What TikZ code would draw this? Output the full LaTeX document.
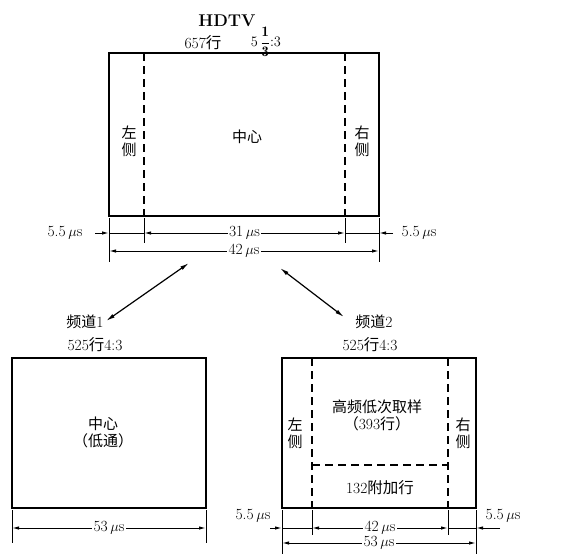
\documentclass[tikz,border=0pt]{standalone}
\usepackage{fontspec}
\newfontfamily\cjk{Noto Sans CJK SC}
\newcommand\zhs[1]{{\cjk #1}}
\usetikzlibrary{arrows.meta}
\begin{document}
\begin{tikzpicture}[x=1pt,y=-1pt,
  box/.style={line width=2.6pt},
  dsh/.style={line width=1.7pt, dash pattern=on 8pt off 5pt},
  ext/.style={line width=1pt},
  tip/.style={-{Latex[length=7pt,width=3.4pt]}},
  dim/.style={line width=1pt, {Latex[length=7pt,width=3.4pt]}-{Latex[length=7pt,width=3.4pt]}},
  arr/.style={line width=1.2pt, {Latex[length=9pt,width=4pt]}-{Latex[length=9pt,width=4pt]}},
  lbl/.style={font=\fontsize{15}{17}\selectfont\cjk, inner sep=1pt, align=center},
  txt/.style={font=\fontsize{15.5}{17}\selectfont, inner sep=1pt},
  num/.style={font=\fontsize{15.5}{17}\selectfont, inner sep=1.5pt, fill=white}
]
\useasboundingbox (0,0) rectangle (565,554);
\fill[white] (0,0) rectangle (565,554);

% ---------- top HDTV box ----------
\node[font=\bfseries\fontsize{17}{20}\selectfont, inner sep=0pt] (hdtv) at (227,21) {HDTV};
\node[txt, inner sep=0pt] (lines1) at (203,43) {657\zhs{行}};
\node[font=\fontsize{14.5}{16}\selectfont, inner sep=0pt] (ratio1) at (266,42) {$5\,{\displaystyle\frac{\mathbf 1}{\mathbf 3}}{:}3$};
\draw[box] (109,53) rectangle (379,216);
\draw[dsh] (144,53) -- (144,216);
\draw[dsh] (345,53) -- (345,216);
\node[lbl] (tl) at (129,141) {左\\侧};
\node[lbl] (tc) at (247,137) {中心};
\node[lbl] (tr) at (362,141) {右\\侧};

% dimension lines top
\draw[ext] (109,218) -- (109,262);
\draw[ext] (144,218) -- (144,243);
\draw[ext] (345,218) -- (345,243);
\draw[ext] (379,218) -- (379,262);
\coordinate (tA) at (95,233);
\coordinate (tB) at (109,233);
\coordinate (tC) at (144,233);
\coordinate (tD) at (345,233);
\coordinate (tE) at (379,233);
\coordinate (tF) at (393,233);
\draw[ext,tip] (tA) -- (tB);
\draw[ext] (tB) -- (tC);
\draw[dim] (tC) -- (tD) node[midway,num] (d31) {31\,$\mu$s};
\draw[ext] (tD) -- (tE);
\draw[ext,tip] (tF) -- (tE);
\node[num] (d55a) at (65,233) {5.5\,$\mu$s};
\node[num] (d55b) at (419,233) {5.5\,$\mu$s};
\coordinate (tG) at (109,251);
\coordinate (tH) at (379,251);
\draw[dim] (tG) -- (tH) node[midway,num] (d42) {42\,$\mu$s};

% ---------- arrows ----------
\coordinate (a1s) at (189,263);
\coordinate (a1e) at (106,321);
\coordinate (a2s) at (280,268);
\coordinate (a2e) at (344,317);
\draw[arr] (a1s) -- (a1e);
\draw[arr] (a2s) -- (a2e);

% ---------- channel labels ----------
\node[lbl] (ch1) at (85,322) {频道{\rmfamily\fontsize{15.5}{17}\selectfont 1}};
\node[txt, inner sep=0pt] (ch1b) at (95,345) {525\zhs{行}4{:}3};
\node[lbl] (ch2) at (374,322) {频道{\rmfamily\fontsize{15.5}{17}\selectfont 2}};
\node[txt, inner sep=0pt] (ch2b) at (370,345) {525\zhs{行}4{:}3};

% ---------- bottom-left box ----------
\draw[box] (12,358) rectangle (206,508);
\node[lbl] (bc) at (103,432) {中心\\（低通）};
\draw[ext] (12,510) -- (12,543);
\draw[ext] (206,510) -- (206,543);
\coordinate (bA) at (12,528);
\coordinate (bB) at (206,528);
\draw[dim] (bA) -- (bB) node[midway,num] (d53a) {53\,$\mu$s};

% ---------- bottom-right box ----------
\draw[box] (282,358) rectangle (476,508);
\draw[dsh] (312,358) -- (312,508);
\draw[dsh] (448,358) -- (448,508);
\draw[dsh] (312,465) -- (448,465);
\node[lbl] (rh) at (377,415) {高频低次取样\\（{\rmfamily\fontsize{15.5}{17}\selectfont 393}行）};
\node[lbl] (rl) at (295,433) {左\\侧};
\node[lbl] (rr) at (463,433) {右\\侧};
\node[txt, inner sep=0pt] (radd) at (380,488) {132\zhs{附加行}};

\draw[ext] (282,510) -- (282,554);
\draw[ext] (312,510) -- (312,535);
\draw[ext] (448,510) -- (448,535);
\draw[ext] (476,510) -- (476,554);
\coordinate (rA) at (270,528);
\coordinate (rB) at (282,528);
\coordinate (rC) at (312,528);
\coordinate (rD) at (448,528);
\coordinate (rE) at (476,528);
\coordinate (rF) at (500,528);
\draw[ext,tip] (rA) -- (rB);
\draw[ext] (rB) -- (rC);
\draw[dim] (rC) -- (rD) node[midway,num] (d42b) {42\,$\mu$s};
\draw[ext] (rD) -- (rE);
\draw[ext,tip] (rF) -- (rE);
\node[txt] (r55a) at (253,516) {5.5\,$\mu$s};
\node[txt] (r55b) at (503,516) {5.5\,$\mu$s};
\coordinate (rG) at (282,543);
\coordinate (rH) at (476,543);
\draw[dim] (rG) -- (rH) node[midway,num] (d53b) {53\,$\mu$s};
\end{tikzpicture}
\end{document}
